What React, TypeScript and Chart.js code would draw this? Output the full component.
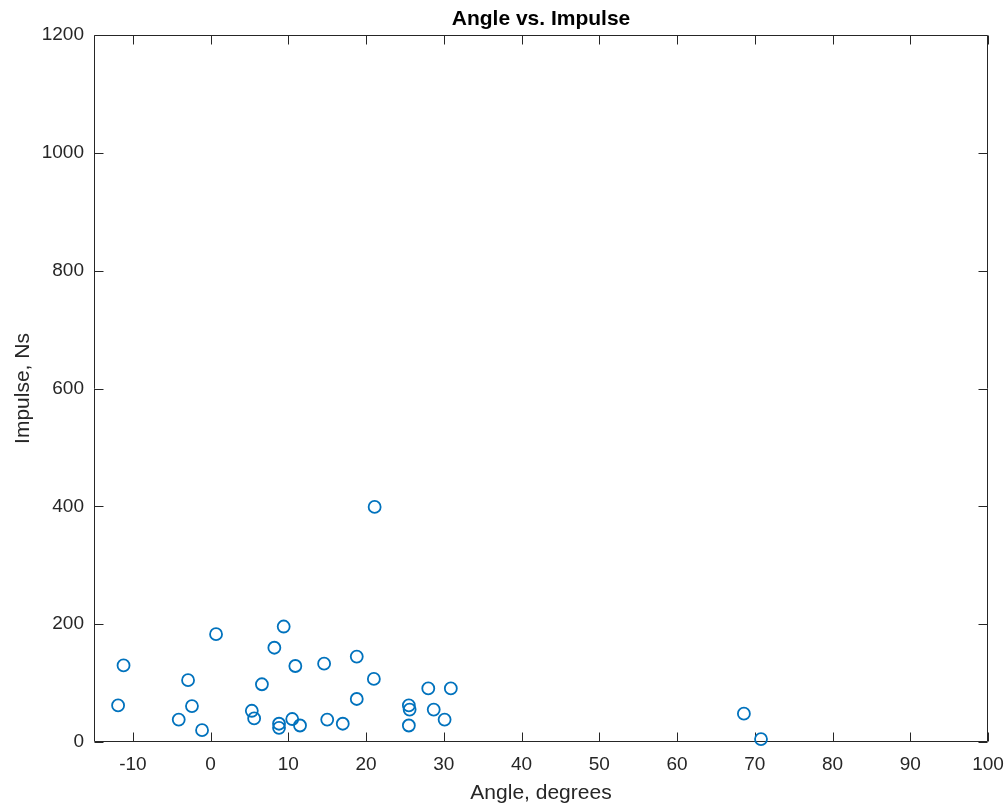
import React, { useEffect, useRef } from "react";
import { Chart, registerables } from "chart.js";

Chart.register(...registerables);

const TITLE = "Angle vs. Impulse";
const X_LABEL = "Angle, degrees";
const Y_LABEL = "Impulse, Ns";

const ANGLE = [
  -11.2, -11.9, 0.7, -2.9, -2.4, -4.1, -1.1, 6.6, 5.3, 5.6,
  8.2, 9.4, 10.9, 14.6, 18.8, 21.0, 18.8, 8.8, 8.8, 10.5,
  11.5, 15.0, 17.0, 25.5, 25.6, 25.5, 28.0, 30.9, 28.7, 30.1,
  68.6, 70.8, 21.1,
];
const IMPULSE = [
  130, 62, 183, 105, 61, 38, 20, 98, 53, 40,
  160, 196, 129, 133, 145, 107, 73, 31, 24, 39,
  28, 38, 31, 62, 55, 28, 91, 91, 55, 38,
  48, 5, 399,
];

const X_TICKS = [-10, 0, 10, 20, 30, 40, 50, 60, 70, 80, 90, 100];
const Y_TICKS = [0, 200, 400, 600, 800, 1000, 1200];
const X_MIN = -15;
const X_MAX = 100;
const Y_MIN = 0;
const Y_MAX = 1200;

const AXIS_COLOR = "#262626";
const POINT_COLOR = "#0072BD";
const FONT = "'Liberation Sans', Arial, Helvetica, sans-serif";
const TICK_LEN = 9;

const boxPlugin = {
  id: "matlabBox",
  beforeDatasetsDraw(chart: any) {
    const { ctx, chartArea } = chart;
    const { left, right, top, bottom } = chartArea;
    const xs = chart.scales.x;
    const ys = chart.scales.y;
    const L = Math.round(left) + 0.5;
    const R = Math.round(right) - 0.5;
    const T = Math.round(top) + 0.5;
    const B = Math.round(bottom) - 0.5;
    ctx.save();
    ctx.strokeStyle = AXIS_COLOR;
    ctx.lineWidth = 1;
    ctx.beginPath();
    ctx.rect(L, T, R - L, B - T);
    X_TICKS.forEach((v) => {
      const px = Math.round(xs.getPixelForValue(v)) + 0.5;
      ctx.moveTo(px, B);
      ctx.lineTo(px, B - TICK_LEN);
      ctx.moveTo(px, T);
      ctx.lineTo(px, T + TICK_LEN);
    });
    Y_TICKS.forEach((v) => {
      const py = Math.round(ys.getPixelForValue(v)) + 0.5;
      ctx.moveTo(L, py);
      ctx.lineTo(L + TICK_LEN, py);
      ctx.moveTo(R, py);
      ctx.lineTo(R - TICK_LEN, py);
    });
    ctx.stroke();
    ctx.restore();
  },
  afterDraw(chart: any) {
    const { ctx, chartArea } = chart;
    ctx.save();
    ctx.fillStyle = "#000000";
    ctx.font = `bold 21px ${FONT}`;
    ctx.textAlign = "center";
    ctx.textBaseline = "middle";
    ctx.fillText(TITLE, (chartArea.left + chartArea.right) / 2, 19);
    ctx.restore();
  },
};

export default function App() {
  const ref = useRef<HTMLCanvasElement | null>(null);

  useEffect(() => {
    if (!ref.current) return;
    const points = ANGLE.map((a, i) => ({ x: a, y: IMPULSE[i] }));
    const chart = new Chart(ref.current, {
      type: "scatter",
      data: {
        datasets: [
          {
            data: points,
            pointStyle: "circle",
            pointRadius: 6,
            pointHoverRadius: 6,
            pointBorderWidth: 1.8,
            borderColor: POINT_COLOR,
            backgroundColor: "rgba(0,0,0,0)",
            clip: false as any,
          },
        ],
      },
      options: {
        responsive: false,
        animation: false,
        devicePixelRatio: 1,
        layout: { padding: { top: 35, right: 19, bottom: 0, left: 0 } },
        plugins: {
          legend: { display: false },
          tooltip: { enabled: false },
          title: { display: false },
        },
        scales: {
          x: {
            type: "linear",
            min: X_MIN,
            max: X_MAX,
            afterBuildTicks: (scale: any) => {
              scale.ticks = X_TICKS.map((v) => ({ value: v }));
            },
            afterFit: (scale: any) => {
              scale.height = 65;
              scale.paddingLeft = 0;
              scale.paddingRight = 0;
            },
            grid: { display: false, drawTicks: false },
            border: { display: false },
            ticks: {
              padding: 11,
              maxRotation: 0,
              autoSkip: false,
              color: AXIS_COLOR,
              font: { family: FONT, size: 19 },
              callback: (v: any) => String(v),
            },
            title: {
              display: true,
              text: X_LABEL,
              color: AXIS_COLOR,
              font: { family: FONT, size: 21 },
              padding: { top: 0, bottom: 1.5 },
            },
          },
          y: {
            type: "linear",
            min: Y_MIN,
            max: Y_MAX,
            afterBuildTicks: (scale: any) => {
              scale.ticks = Y_TICKS.map((v) => ({ value: v }));
            },
            afterFit: (scale: any) => {
              scale.width = 94;
              scale.paddingTop = 0;
              scale.paddingBottom = 0;
            },
            grid: { display: false, drawTicks: false },
            border: { display: false },
            ticks: {
              padding: 10,
              autoSkip: false,
              color: AXIS_COLOR,
              font: { family: FONT, size: 19 },
              callback: (v: any) => String(v),
            },
            title: {
              display: true,
              text: Y_LABEL,
              color: AXIS_COLOR,
              font: { family: FONT, size: 21 },
              padding: { top: 11, bottom: 0 },
            },
          },
        },
      },
      plugins: [boxPlugin],
    });
    return () => chart.destroy();
  }, []);

  return (
    <div style={{ position: "absolute", left: 0, top: 0, width: 1007, height: 807, background: "#ffffff" }}>
      <canvas ref={ref} width={1007} height={807} style={{ display: "block" }} />
    </div>
  );
}
